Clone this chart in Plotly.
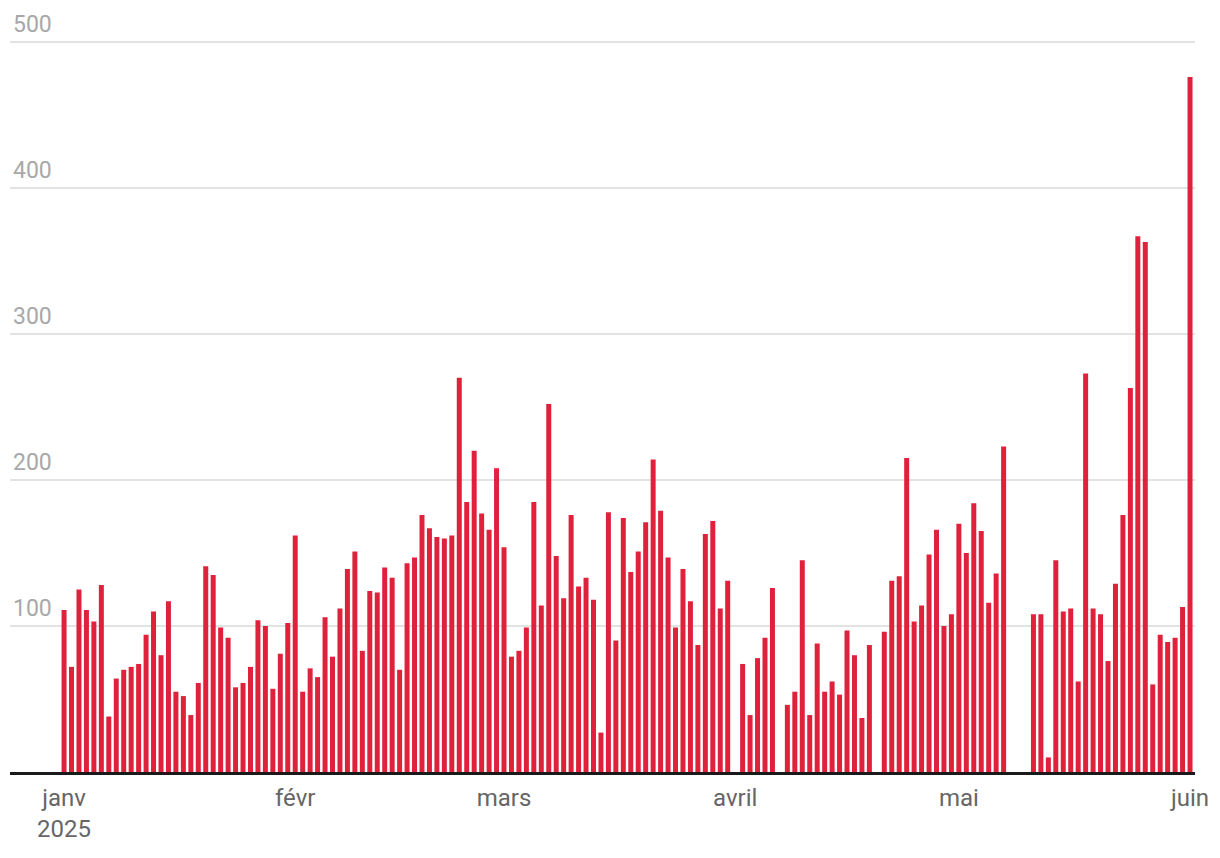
import pandas as pd
import plotly.graph_objects as go

# Daily values, 1 Jan 2025 -> 1 Jun 2025 (None = no data)
jan = [111, 72, 125, 111, 103, 128, 38, 64, 70, 72, 74, 94, 110, 80, 117, 55,
       52, 39, 61, 141, 135, 99, 92, 58, 61, 72, 104, 100, 57, 81, 102]
feb = [162, 55, 71, 65, 106, 79, 112, 139, 151, 83, 124, 123, 140, 133, 70,
       143, 147, 176, 167, 161, 160, 162, 270, 185, 220, 177, 166, 208]
mar = [154, 79, 83, 99, 185, 114, 252, 148, 119, 176, 127, 133, 118, 27, 178,
       90, 174, 137, 151, 171, 214, 179, 147, 99, 139, 117, 87, 163, 172, 112, 131]
apr = [None, 74, 39, 78, 92, 126, None, 46, 55, 145, 39, 88, 55, 62, 53, 97,
       80, 37, 87, None, 96, 131, 134, 215, 103, 114, 149, 166, 100, 108]
may = [170, 150, 184, 165, 116, 136, 223, None, None, None, 108, 108, 10, 145,
       110, 112, 62, 273, 112, 108, 76, 129, 176, 263, 367, 363, 60, 94, 89, 92, 113]
jun = [476]

values = jan + feb + mar + apr + may + jun
dates = pd.date_range("2025-01-01", "2025-06-01", freq="D")

x_tickvals = ["2025-01-01", "2025-02-01", "2025-03-01", "2025-04-01", "2025-05-01", "2025-06-01"]
x_ticktext = ["janv<br>2025", "févr", "mars", "avril", "mai", "juin"]
y_tickvals = [100, 200, 300, 400, 500]

fig = go.Figure()
fig.add_trace(go.Bar(x=dates, y=values, marker=dict(color="#df213c", line=dict(width=0)),
                     hoverinfo="x+y"))

fig.update_layout(
    width=1212, height=850,
    margin=dict(l=2, r=25, t=0, b=86),
    paper_bgcolor="white", plot_bgcolor="white",
    font=dict(family="Roboto", size=22, color="#666666"),
    bargap=0.33,
    showlegend=False,
)
fig.update_xaxes(
    type="date",
    range=["2024-12-24 18:00", "2025-06-01 16:00"],
    tickvals=x_tickvals, ticktext=x_ticktext,
    showgrid=False, ticks="",
    showline=True, linecolor="#1a1a1a", linewidth=2.5,
    tickfont=dict(size=24, color="#666666"),
    ticklabelstandoff=2,
)
fig.update_yaxes(
    range=[0, 523.3],
    tickvals=y_tickvals,
    showgrid=True, gridcolor="#e3e3e3", gridwidth=1.5,
    zeroline=False, showline=False, ticks="",
    ticklabelposition="inside top",
    ticklabelshift=-2,
    tickfont=dict(size=23, color="#a8a8a8"),
)

fig.write_html("out.html")
